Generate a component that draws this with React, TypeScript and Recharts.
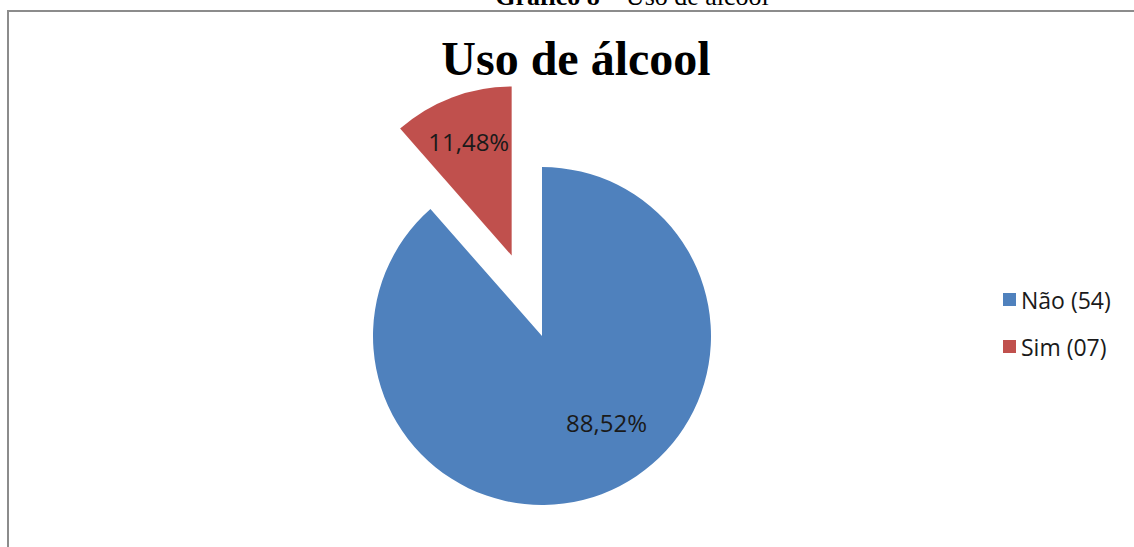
import React from 'react';
import { PieChart, Pie, Cell, Legend } from 'recharts';

const categories = ['Não (54)', 'Sim (07)'];
const values = [54, 7];
const colors = ['#4F81BD', '#C0504D'];
const chartTitle = 'Uso de álcool';
const captionBold = 'Gráfico 8';
const captionRest = ' – Uso de álcool';

const data = categories.map((name, i) => ({ name, value: values[i] }));
const total = values.reduce((a, b) => a + b, 0);

const W = 1134;
const H = 547;
const CX = 537;
const CY = 331;
const R = 169;
const EXPLODE = 86;
const RADIAN = Math.PI / 180;

// exploded slice offset, from its mid angle (clockwise from 12 o'clock)
const redMidCw = (360 * (values[0] + values[1] / 2)) / total;
const exDx = EXPLODE * Math.sin(redMidCw * RADIAN);
const exDy = -EXPLODE * Math.cos(redMidCw * RADIAN);

const fmt = (p: number) => (p * 100).toFixed(2).replace('.', ',') + '%';

const makeLabel = (which: number) => (props: any) => {
  const { cx, cy, midAngle, outerRadius, percent, index } = props;
  if (index !== which) return null;
  let ang = midAngle;
  let f = 0.72;
  if (which === 0) {
    ang = midAngle + 16;
    f = 0.64;
  }
  const x = cx + outerRadius * f * Math.cos(-ang * RADIAN);
  const y = cy + outerRadius * f * Math.sin(-ang * RADIAN);
  return (
    <text
      x={x}
      y={y}
      textAnchor="middle"
      dominantBaseline="central"
      fill="#1a1a1a"
      fontFamily="'Open Sans', sans-serif"
      fontSize={24}
    >
      {fmt(percent)}
    </text>
  );
};

const LegendContent = () => (
  <div style={{ fontFamily: "'Open Sans', sans-serif", fontSize: 23, color: '#1a1a1a' }}>
    {categories.map((c, i) => (
      <div key={c} style={{ display: 'flex', alignItems: 'center', height: 47 }}>
        <span style={{ display: 'inline-block', width: 13, height: 13, background: colors[i], marginRight: 5 }} />
        <span>{c}</span>
      </div>
    ))}
  </div>
);

export default function App() {
  return (
    <div style={{ position: 'absolute', left: 0, top: 0, width: W, height: H, overflow: 'hidden', background: '#fff' }}>
      <svg width={W} height={H} style={{ position: 'absolute', left: 0, top: 0 }}>
        <rect x={8} y={11} width={1300} height={700} fill="#fff" stroke="#8c8c8c" strokeWidth={2} />
        <text x={632} y={5} textAnchor="middle" fontFamily="'Liberation Serif', 'Times New Roman', serif" fontSize={26} fill="#000">
          <tspan fontWeight="bold">{captionBold}</tspan>
          <tspan>{captionRest}</tspan>
        </text>
        <text x={576} y={75} textAnchor="middle" fontFamily="'Liberation Serif', 'Times New Roman', serif" fontSize={48} fontWeight="bold" fill="#000">
          {chartTitle}
        </text>
      </svg>
      <div style={{ position: 'absolute', left: 0, top: 0 }}>
        <PieChart width={W} height={H}>
          <Pie
            data={data}
            dataKey="value"
            nameKey="name"
            cx={CX}
            cy={CY}
            outerRadius={R}
            startAngle={90}
            endAngle={-270}
            stroke="none"
            labelLine={false}
            label={makeLabel(0)}
            isAnimationActive={false}
          >
            {data.map((d, i) => (
              <Cell key={d.name} fill={i === 0 ? colors[0] : 'none'} />
            ))}
          </Pie>
          <Pie
            data={data}
            dataKey="value"
            nameKey="name"
            cx={CX + exDx}
            cy={CY + exDy}
            outerRadius={R}
            startAngle={90}
            endAngle={-270}
            stroke="none"
            labelLine={false}
            label={makeLabel(1)}
            isAnimationActive={false}
          >
            {data.map((d, i) => (
              <Cell key={d.name} fill={i === 1 ? colors[1] : 'none'} />
            ))}
          </Pie>
          <Legend
            layout="vertical"
            align="right"
            verticalAlign="top"
            content={<LegendContent />}
            wrapperStyle={{ left: 1003, top: 276, width: 130 }}
          />
        </PieChart>
      </div>
    </div>
  );
}
